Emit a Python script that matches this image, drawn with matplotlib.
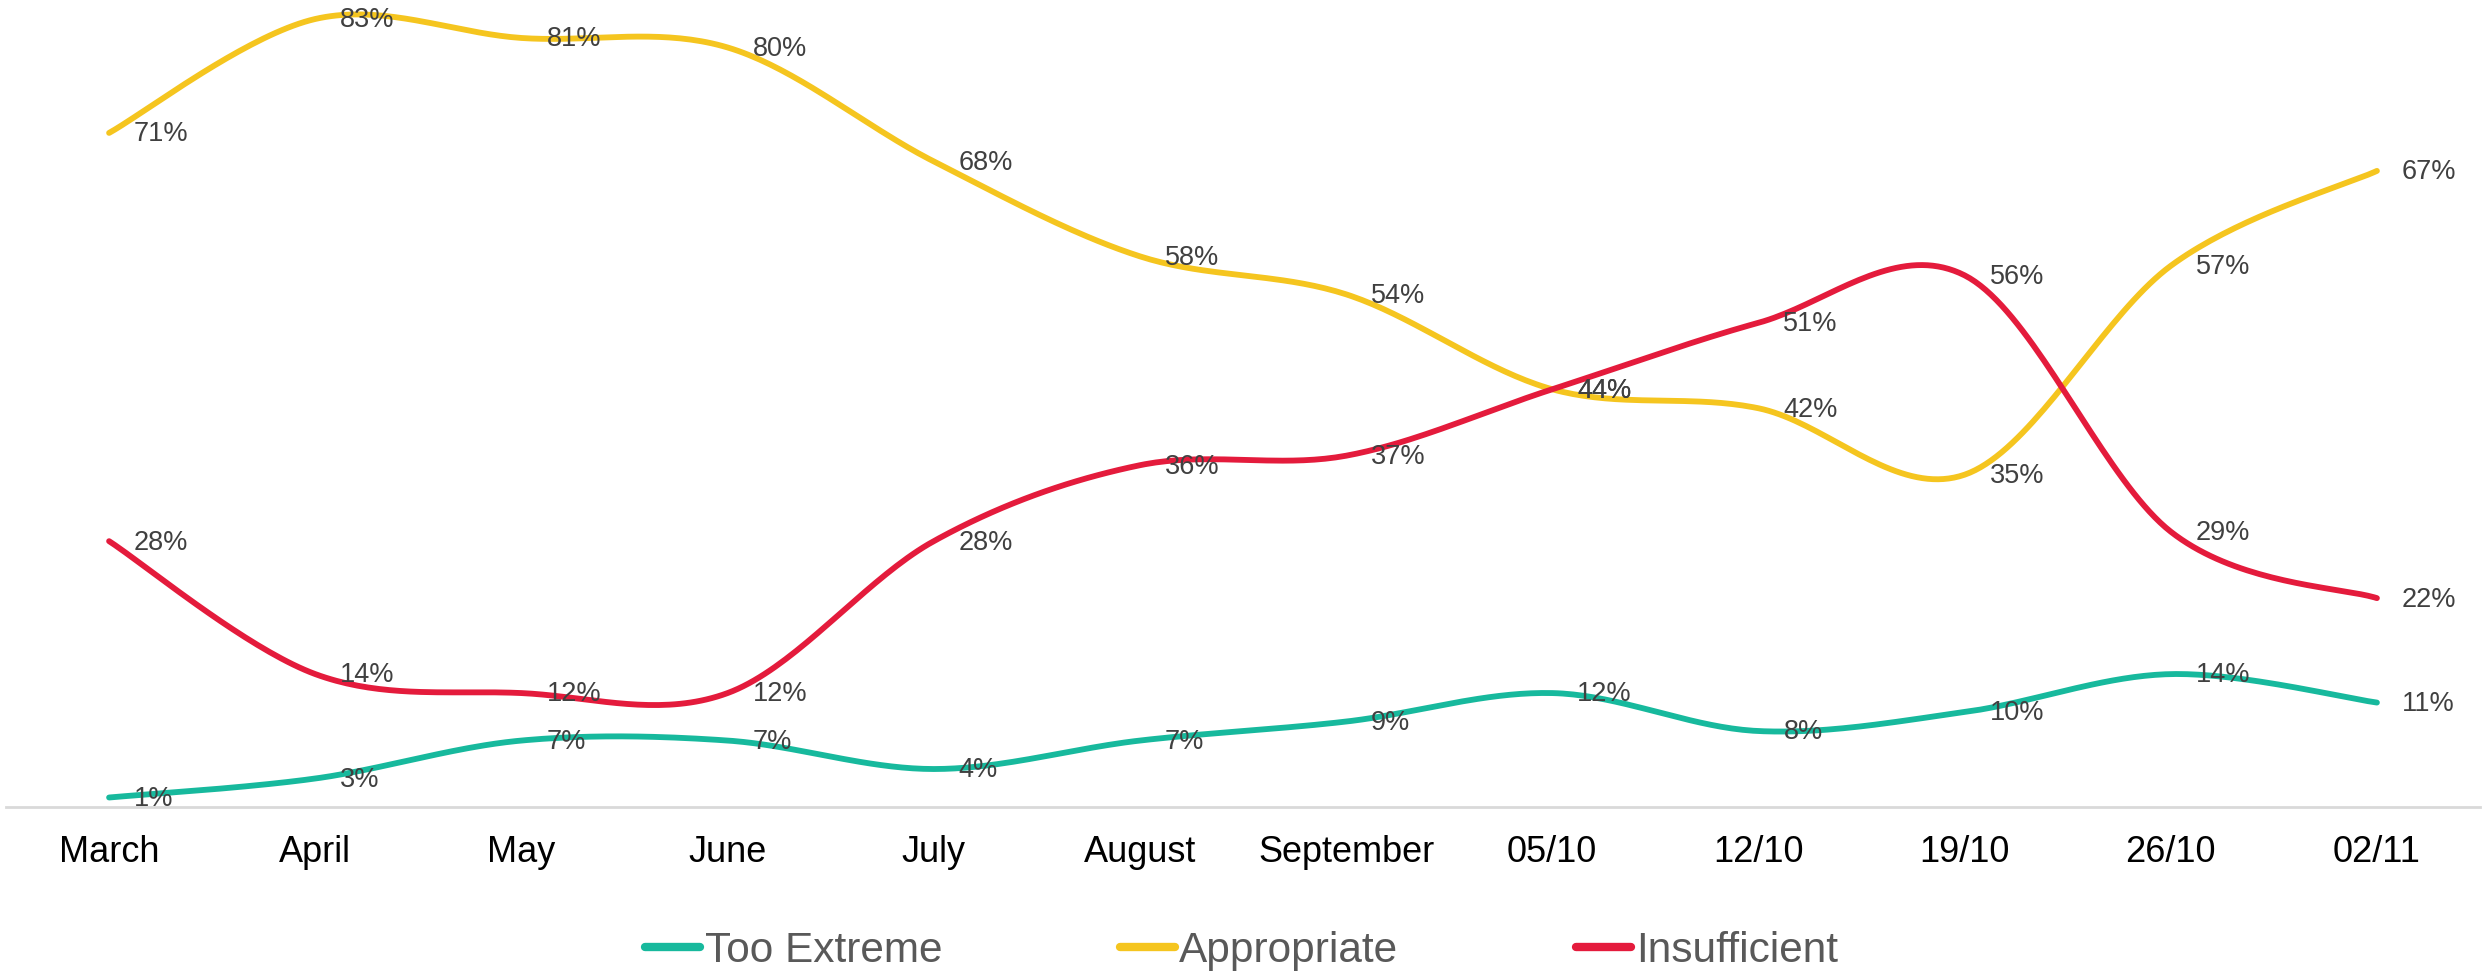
import numpy as np
import matplotlib.pyplot as plt

plt.rcParams['font.family'] = ['Liberation Sans', 'DejaVu Sans']

categories = ["March", "April", "May", "June", "July", "August", "September",
              "05/10", "12/10", "19/10", "26/10", "02/11"]
too_extreme = [1, 3, 7, 7, 4, 7, 9, 12, 8, 10, 14, 11]
appropriate = [71, 83, 81, 80, 68, 58, 54, 44, 42, 35, 57, 67]
insufficient = [28, 14, 12, 12, 28, 36, 37, 44, 51, 56, 29, 22]

series = [
    ("Too Extreme", too_extreme, "#17b99d"),
    ("Appropriate", appropriate, "#f5c51f"),
    ("Insufficient", insufficient, "#e41b3c"),
]


def smooth(x, y, n=40):
    # Excel-like smoothed line: cubic bezier with catmull-rom control points
    x = np.asarray(x, float)
    y = np.asarray(y, float)
    px = np.concatenate([[x[0]], x, [x[-1]]])
    py = np.concatenate([[y[0]], y, [y[-1]]])
    xs, ys = [], []
    t = np.linspace(0, 1, n)
    for i in range(1, len(px) - 2):
        p0 = np.array([px[i], py[i]])
        p3 = np.array([px[i + 1], py[i + 1]])
        p1 = p0 + (np.array([px[i + 1], py[i + 1]]) - np.array([px[i - 1], py[i - 1]])) / 6
        p2 = p3 - (np.array([px[i + 2], py[i + 2]]) - np.array([px[i], py[i]])) / 6
        b = ((1 - t) ** 3)[:, None] * p0 + (3 * (1 - t) ** 2 * t)[:, None] * p1 \
            + (3 * (1 - t) * t ** 2)[:, None] * p2 + (t ** 3)[:, None] * p3
        xs.append(b[:, 0])
        ys.append(b[:, 1])
    return np.concatenate(xs), np.concatenate(ys)


fig = plt.figure(figsize=(24.83, 9.72), dpi=100)
ax = fig.add_axes([6 / 2483, 165 / 972, 2474 / 2483, 807 / 972])

x = np.arange(len(categories))
for name, vals, color in series:
    sx, sy = smooth(x, vals)
    ax.plot(sx, sy, color=color, linewidth=4.2, solid_capstyle='round',
            label=name, clip_on=False)
    for xi, v in zip(x, vals):
        ax.annotate(f"{v}%", (xi, v), xytext=(18, -1), textcoords='offset points',
                    ha='left', va='center', fontsize=19.5, color='#404040')

ax.set_xlim(-0.5, 11.5)
ax.set_ylim(0, 85)
ax.set_xticks(x)
ax.set_xticklabels(categories, fontsize=26, color='black')
ax.set_yticks([])
ax.tick_params(axis='x', length=0, pad=20)
for s in ['top', 'right', 'left']:
    ax.spines[s].set_visible(False)
ax.spines['bottom'].set_color('#d9d9d9')
ax.spines['bottom'].set_linewidth(2)

leg = fig.legend(loc='center', bbox_to_anchor=(0.5, 21 / 972), ncol=3, frameon=False,
                 fontsize=30.5, handlelength=1.3, handletextpad=0.1, columnspacing=4.2)
for t in leg.get_texts():
    t.set_color('#595959')
for h in leg.get_lines():
    h.set_linewidth(6)

fig.savefig("out.png", dpi=100)
